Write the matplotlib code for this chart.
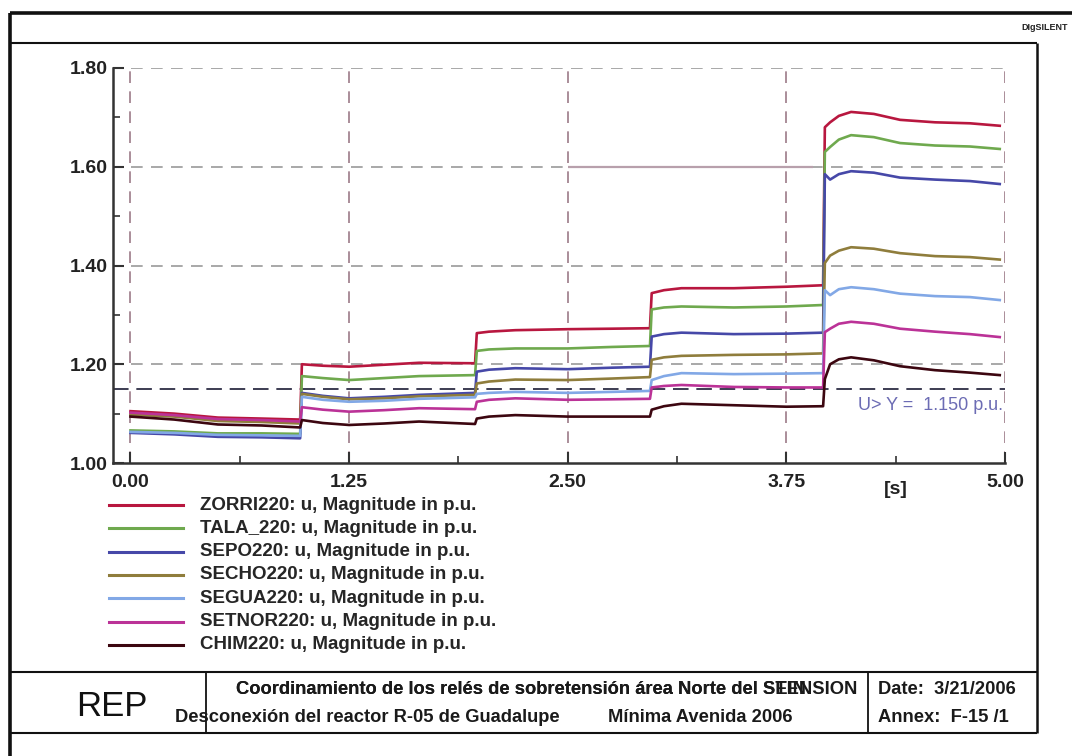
"""Overvoltage relay coordination: bus voltages after reactor R-05 disconnection."""

import matplotlib

matplotlib.use("Agg")
import matplotlib.pyplot as plt
from matplotlib.lines import Line2D
from matplotlib.ticker import FixedLocator, MultipleLocator

plt.rcParams["font.family"] = ["Liberation Sans", "DejaVu Sans"]

# simulation time [s] (steps at each switching instant)
T = [0.00, 0.25, 0.50, 0.75, 0.97,
     0.98, 1.10, 1.25, 1.45, 1.65, 1.97,
     1.98, 2.05, 2.20, 2.50, 2.75, 2.97,
     2.98, 3.05, 3.15, 3.45, 3.75, 3.96,
     3.97, 4.00, 4.05, 4.12, 4.25, 4.40, 4.60, 4.80, 4.97]

ZORRI = [1.105, 1.100, 1.092, 1.090, 1.088,
         1.200, 1.197, 1.195, 1.199, 1.203, 1.202,
         1.263, 1.266, 1.269, 1.271, 1.272, 1.273,
         1.344, 1.350, 1.354, 1.354, 1.357, 1.360,
         1.680, 1.690, 1.703, 1.711, 1.707, 1.695, 1.690, 1.688, 1.683]
TALA = [1.066, 1.064, 1.060, 1.060, 1.059,
        1.176, 1.172, 1.168, 1.172, 1.176, 1.178,
        1.227, 1.230, 1.232, 1.232, 1.235, 1.237,
        1.311, 1.315, 1.317, 1.315, 1.317, 1.320,
        1.630, 1.640, 1.655, 1.664, 1.660, 1.648, 1.643, 1.641, 1.636]
SEPO = [1.061, 1.058, 1.053, 1.052, 1.050,
        1.142, 1.136, 1.131, 1.134, 1.138, 1.142,
        1.185, 1.189, 1.192, 1.190, 1.193, 1.195,
        1.256, 1.261, 1.264, 1.261, 1.262, 1.264,
        1.585, 1.574, 1.585, 1.591, 1.588, 1.578, 1.574, 1.571, 1.565]
SECHO = [1.098, 1.094, 1.085, 1.083, 1.080,
         1.140, 1.134, 1.129, 1.131, 1.135, 1.138,
         1.161, 1.165, 1.169, 1.168, 1.171, 1.174,
         1.209, 1.214, 1.217, 1.219, 1.220, 1.222,
         1.405, 1.420, 1.430, 1.437, 1.434, 1.425, 1.419, 1.417, 1.412]
SEGUA = [1.063, 1.061, 1.057, 1.056, 1.055,
         1.134, 1.128, 1.124, 1.126, 1.130, 1.133,
         1.140, 1.142, 1.144, 1.142, 1.144, 1.146,
         1.168, 1.176, 1.182, 1.180, 1.181, 1.182,
         1.350, 1.340, 1.352, 1.356, 1.352, 1.343, 1.338, 1.336, 1.330]
SETNOR = [1.102, 1.097, 1.089, 1.087, 1.084,
          1.113, 1.108, 1.104, 1.107, 1.111, 1.109,
          1.124, 1.128, 1.131, 1.128, 1.129, 1.130,
          1.153, 1.156, 1.158, 1.154, 1.153, 1.153,
          1.265, 1.272, 1.282, 1.286, 1.282, 1.272, 1.266, 1.261, 1.255]
CHIM = [1.094, 1.088, 1.078, 1.076, 1.072,
        1.087, 1.081, 1.077, 1.080, 1.084, 1.079,
        1.090, 1.094, 1.097, 1.094, 1.094, 1.094,
        1.108, 1.115, 1.120, 1.117, 1.114, 1.115,
        1.170, 1.200, 1.210, 1.214, 1.208, 1.196, 1.188, 1.183, 1.178]

SERIES = [
    ("ZORRI220: u, Magnitude in p.u.", ZORRI, "#b8173f"),
    ("TALA_220: u, Magnitude in p.u.", TALA, "#6fa94e"),
    ("SEPO220: u, Magnitude in p.u.", SEPO, "#4648a8"),
    ("SECHO220: u, Magnitude in p.u.", SECHO, "#8f7d3c"),
    ("SEGUA220: u, Magnitude in p.u.", SEGUA, "#82a8e6"),
    ("SETNOR220: u, Magnitude in p.u.", SETNOR, "#bb3297"),
    ("CHIM220: u, Magnitude in p.u.", CHIM, "#3c0610"),
]

U_LIMIT = 1.150
X_TICKS = [0.0, 1.25, 2.5, 3.75, 5.0]
Y_TICKS = [1.0, 1.2, 1.4, 1.6, 1.8]

W, H = 1072, 756
fig = plt.figure(figsize=(W / 100, H / 100), dpi=100)


def fx(px):
    return px / W


def fy(py):
    return 1 - py / H


ax = fig.add_axes([fx(113), fy(463), fx(1005) - fx(113), fy(68) - fy(463)])
ax.set_xlim(-0.1, 5.0)
ax.set_ylim(1.0, 1.8)

grid_v = "#9c7a88"
grid_h = "#9a9a9a"
for x in X_TICKS:
    ax.axvline(x, color=grid_v, lw=1.2, ls=(0, (7, 5)), zorder=1)
for y in Y_TICKS[1:]:
    ax.axhline(y, xmin=0.02, color=grid_h, lw=1.2, ls=(0, (7, 5)), zorder=1)
ax.hlines(1.6, 2.5, 3.9, color="#b8a0ac", lw=1.6, zorder=1)
ax.axhline(U_LIMIT, color="#3c3c52", lw=1.4, ls=(0, (8, 4)), zorder=2)
ax.text(4.16, 1.117, "U> Y =  1.150 p.u.", color="#6c6cb4", fontsize=13,
        va="center", ha="left")

for label, values, color in SERIES:
    ax.plot(T, values, color=color, lw=1.9, solid_joinstyle="round", zorder=3)

for side in ("top", "right"):
    ax.spines[side].set_visible(False)
for side in ("left", "bottom"):
    ax.spines[side].set_color("#333333")
    ax.spines[side].set_linewidth(1.8)

ax.xaxis.set_major_locator(FixedLocator(X_TICKS))
ax.xaxis.set_minor_locator(MultipleLocator(0.625))
ax.yaxis.set_major_locator(FixedLocator(Y_TICKS))
ax.yaxis.set_minor_locator(MultipleLocator(0.1))
ax.set_xticklabels([f"{x:.2f}" for x in X_TICKS])
ax.set_yticklabels([f"{y:.2f}" for y in Y_TICKS])
ax.tick_params(which="both", direction="in", colors="#333333", labelcolor="#222222")
ax.tick_params(which="major", length=8, width=1.5, labelsize=14)
ax.tick_params(axis="x", which="major", pad=8)
ax.tick_params(axis="y", which="major", pad=4)
ax.tick_params(which="minor", length=5, width=1.2)
for lab in ax.get_xticklabels() + ax.get_yticklabels():
    lab.set_fontweight("bold")
ax.text(4.375, -0.045, "[s]", transform=ax.get_xaxis_transform(), ha="center",
        va="top", fontsize=14, fontweight="bold", color="#222222")

# legend rows below the plot
for i, (label, values, color) in enumerate(SERIES):
    ypos = fy(505 + i * 23.3)
    fig.add_artist(Line2D([fx(109), fx(183)], [ypos, ypos], color=color, lw=2.2))
    fig.text(fx(200), ypos, label, fontsize=13.5, fontweight="bold",
             color="#262626", va="center", ha="left")

# page frame and title block
frame = dict(color="#111111", solid_capstyle="butt")
fig.add_artist(Line2D([fx(10), 1], [fy(13), fy(13)], lw=2.6, **frame))
fig.add_artist(Line2D([fx(10), fx(10)], [fy(13), 0], lw=2.6, **frame))
fig.add_artist(Line2D([fx(10), fx(1037)], [fy(43), fy(43)], lw=1.5, **frame))
fig.add_artist(Line2D([fx(1037), fx(1037)], [fy(43), fy(733)], lw=1.8, **frame))
fig.add_artist(Line2D([fx(10), fx(1037)], [fy(672), fy(672)], lw=1.5, **frame))
fig.add_artist(Line2D([fx(10), fx(1037)], [fy(733), fy(733)], lw=1.5, **frame))
fig.add_artist(Line2D([fx(206), fx(206)], [fy(673), fy(733)], lw=1.3, **frame))
fig.add_artist(Line2D([fx(868), fx(868)], [fy(673), fy(733)], lw=1.3, **frame))

fig.text(fx(1068), fy(27), "DIgSILENT", fontsize=6.5, fontweight="bold",
         color="#222222", va="center", ha="right")

block = dict(fontsize=13.2, fontweight="bold", color="#1a1a1a", va="center",
             ha="left")
fig.text(fx(112), fy(706), "REP", fontsize=25, color="#111111", va="center",
         ha="center")
head = "Coordinamiento de los relés de sobretensión área Norte del S"
fig.text(fx(236), fy(690), head + "EIN", **block)
fig.text(fx(236), fy(690), head + "TENSION", **block)
fig.text(fx(175), fy(718), "Desconexión del reactor R-05 de Guadalupe", **block)
fig.text(fx(608), fy(718), "Mínima Avenida 2006", **block)
fig.text(fx(878), fy(690), "Date:  3/21/2006", **block)
fig.text(fx(878), fy(718), "Annex:  F-15 /1", **block)

fig.savefig("out.png", dpi=100)
